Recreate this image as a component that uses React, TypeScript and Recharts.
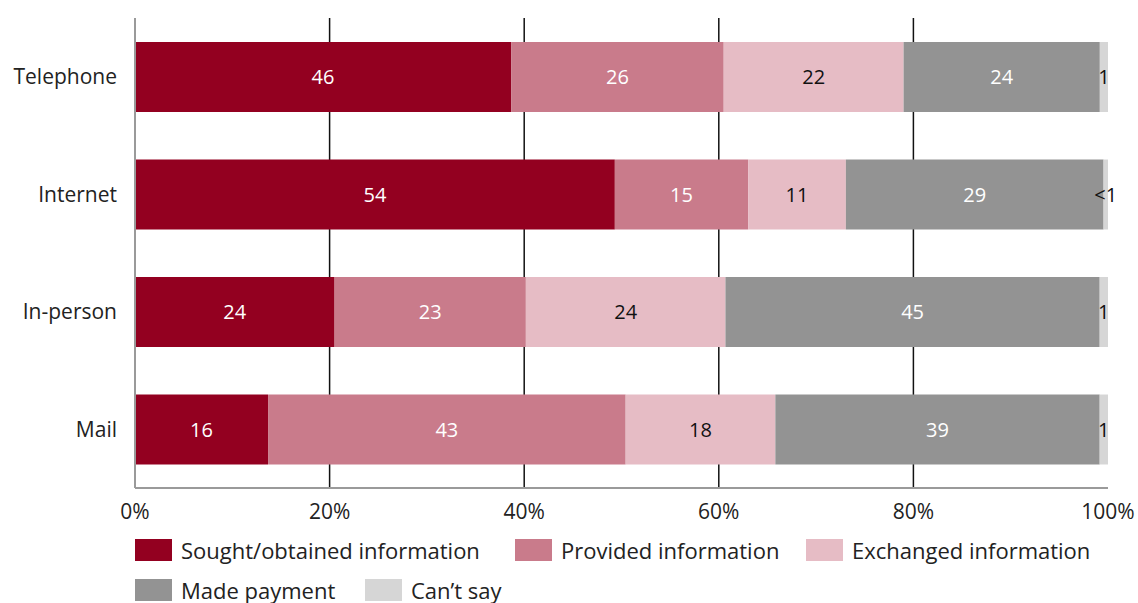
import { BarChart, Bar, XAxis, YAxis, LabelList, CartesianGrid } from "recharts"

const channels = ["Telephone", "Internet", "In-person", "Mail"]
const sought = [46, 54, 24, 16]
const provided = [26, 15, 23, 43]
const exchanged = [22, 11, 24, 18]
const payment = [24, 29, 45, 39]
const cantSay = [1, 0.5, 1, 1]
const cantSayLabels = ["1", "<1", "1", "1"]
const xTicks = [0, 0.2, 0.4, 0.6, 0.8, 1]
const gridTicks = [0.2, 0.4, 0.6, 0.8]

const series = [
  { key: "sought", name: "Sought/obtained information", color: "#930020", text: "#fff" },
  { key: "provided", name: "Provided information", color: "#c97b8b", text: "#fff" },
  { key: "exchanged", name: "Exchanged information", color: "#e6bcc5", text: "#111" },
  { key: "payment", name: "Made payment", color: "#939393", text: "#fff" },
  { key: "cantSay", name: "Can\u2019t say", color: "#d6d6d6", text: "#111" },
]

const data = channels.map((channel, i) => ({
  channel,
  sought: sought[i],
  provided: provided[i],
  exchanged: exchanged[i],
  payment: payment[i],
  cantSay: cantSay[i],
  cantSayLabel: cantSayLabels[i],
}))

const FONT = "'Open Sans', sans-serif"

// legend item spots (row, left)
const legendSpots = [
  { top: 538, left: 135 },
  { top: 538, left: 515 },
  { top: 538, left: 806 },
  { top: 578, left: 135 },
  { top: 578, left: 365 },
]

function ChartLegend() {
  return (
    <>
      {series.map((s, i) => (
        <div
          key={s.key}
          style={{
            position: "absolute",
            top: legendSpots[i].top,
            left: legendSpots[i].left,
            display: "flex",
            alignItems: "center",
            height: 24,
            fontFamily: FONT,
            whiteSpace: "nowrap",
          }}
        >
          <span style={{ width: 37, height: 22, background: s.color, display: "inline-block" }} />
          <span style={{ marginLeft: 9, fontSize: 22, color: "#222" }}>{s.name}</span>
        </div>
      ))}
    </>
  )
}

export default function App() {
  return (
    <div style={{ position: "absolute", left: 0, top: 0, width: 1138, height: 603, background: "#fff" }}>
      <BarChart
        width={1138}
        height={603}
        data={data}
        layout="vertical"
        stackOffset="expand"
        margin={{ top: 18, right: 30, bottom: 85, left: 0 }}
      >
        <CartesianGrid
          horizontal={false}
          stroke="#111"
          strokeWidth={1.5}
          verticalCoordinatesGenerator={({ xAxis, offset }: any) =>
            gridTicks.map((t) =>
              xAxis && typeof xAxis.scale === "function" ? xAxis.scale(t) : offset.left + t * offset.width
            )
          }
        />
        <XAxis
          type="number"
          domain={[0, 1]}
          ticks={xTicks}
          tickFormatter={(v) => `${Math.round(v * 100)}%`}
          axisLine={{ stroke: "#9a9a9a", strokeWidth: 2 }}
          tickLine={false}
          tickMargin={10}
          tick={{ fontSize: 21, fill: "#222", fontFamily: FONT }}
          interval={0}
        />
        <YAxis
          type="category"
          dataKey="channel"
          width={135}
          axisLine={{ stroke: "#9a9a9a", strokeWidth: 2 }}
          tickLine={false}
          tickSize={0}
          tickMargin={18}
          tick={{ fontSize: 21, fill: "#222", fontFamily: FONT }}
        />
        {series.map((s) => (
          <Bar key={s.key} dataKey={s.key} name={s.name} stackId="a" fill={s.color} barSize={70} isAnimationActive={false}>
            <LabelList
              dataKey={s.key === "cantSay" ? "cantSayLabel" : s.key}
              position="center"
              fill={s.text}
              fontSize={20}
              fontFamily={FONT}
            />
          </Bar>
        ))}
      </BarChart>
      <ChartLegend />
    </div>
  )
}
